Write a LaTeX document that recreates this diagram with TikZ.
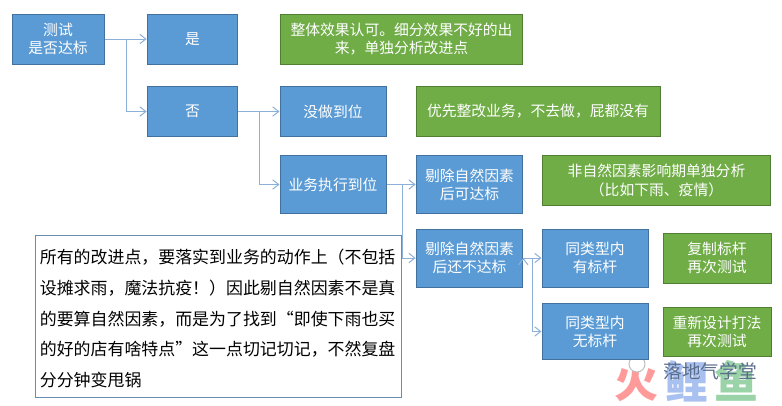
\documentclass[tikz,border=0pt]{standalone}
\usepackage{fontspec}
\usetikzlibrary{arrows.meta}
\setmainfont{Noto Sans CJK SC}
\definecolor{boxblue}{HTML}{5B9BD5}
\definecolor{boxedge}{HTML}{41719C}
\definecolor{boxgreen}{HTML}{70AD47}
\definecolor{greenedge}{HTML}{507E32}
\definecolor{linkblue}{HTML}{8DB0D8}
\definecolor{logored}{HTML}{FF9A9A}
\definecolor{logoblue}{HTML}{A9C1F0}
\definecolor{logogreen}{HTML}{9BD3A8}
\definecolor{markgrey}{HTML}{5A6E8C}
\tikzset{
  bluebox/.style={draw=boxedge, fill=boxblue, text=white, align=center, inner sep=0pt, font=\fontsize{11.1}{13.7}\selectfont},
  greenbox/.style={draw=greenedge, fill=boxgreen, text=white, align=center, inner sep=0pt, font=\fontsize{11.1}{13.7}\selectfont},
  notebox/.style={draw=boxedge!80, fill=white, text=black, align=left, inner sep=0pt, font=\fontsize{12.7}{23}\selectfont},
  logo/.style={inner sep=0pt, font=\fontsize{33}{33}\bfseries\selectfont},
  elbow/.style={to path={-- ++(#1,0) |- (\tikztotarget)}},
}
\begin{document}
\begin{tikzpicture}[x=0.75pt, y=-0.75pt, >={Straight Barb[length=4.5pt,width=7pt]}, line width=0.75pt]
\useasboundingbox (0,0) rectangle (782,405);

% watermark
\node [logo, text=logored] (fire) at (636,381) {火};
\node [logo, text=logoblue] (carp) at (686,381) {鲤};
\node [logo, text=logogreen] (fish) at (736,381) {鱼};
\node [draw=black!25, fill=white, circle, minimum size=12pt, inner sep=0pt] (icon) at (637,364) {};
\node [text=markgrey, inner sep=0pt, font=\fontsize{14}{14}\selectfont] (mark) at (710,371) {落地气学堂};

% left column
\node [bluebox, minimum width=69pt, minimum height=37.5pt] (test) at (58,39) {测试\\是否达标};
\node [bluebox, minimum width=68pt, minimum height=37.5pt] (yes) at (192.5,39) {是};
\node [bluebox, minimum width=68pt, minimum height=37pt] (no) at (192.5,111.5) {否};

% middle column
\node [bluebox, minimum width=79.5pt, minimum height=37pt] (undone) at (333,111.5) {没做到位};
\node [bluebox, minimum width=79.5pt, minimum height=43pt] (done) at (333,184.5) {业务执行到位};
\node [bluebox, minimum width=80pt, minimum height=43pt] (reach) at (469.5,184.5) {剔除自然因素\\后可达标};
\node [bluebox, minimum width=80pt, minimum height=43.5pt] (miss) at (469.5,258) {剔除自然因素\\后还不达标};
\node [bluebox, minimum width=79.5pt, minimum height=43.5pt] (bench) at (595,258) {同类型内\\有标杆};
\node [bluebox, minimum width=79.5pt, minimum height=42.5pt] (nobench) at (595,331.5) {同类型内\\无标杆};

% green notes
\node [greenbox, minimum width=182pt, minimum height=37.5pt] (accept) at (401.5,39) {整体效果认可。细分效果不好的出\\来，单独分析改进点};
\node [greenbox, minimum width=183pt, minimum height=37pt] (first) at (538,111.5) {优先整改业务，不去做，屁都没有};
\node [greenbox, minimum width=171.5pt, minimum height=37pt] (alone) at (656.5,180.5) {非自然因素影响期单独分析\\（比如下雨、疫情）};
\node [greenbox, minimum width=81pt, minimum height=37.5pt] (copy) at (717,258) {复制标杆\\再次测试};
\node [greenbox, minimum width=81pt, minimum height=37pt] (redo) at (717,332) {重新设计打法\\再次测试};

% long note
\node [notebox, minimum width=275pt, minimum height=121.5pt, text width=268pt] (note) at (218.5,316) {所有的改进点，要落实到业务的动作上（不包括\\设摊求雨，魔法抗疫！）因此剔自然因素不是真\\的要算自然因素，而是为了找到“即使下雨也买\\的好的店有啥特点”这一点切记切记，不然复盘\\分分钟变甩锅\vspace*{-4pt}};

\draw [->, linkblue]
    (test) edge (yes)
    (test.east) edge[elbow=22] (no.west)
    (no) edge (undone)
    (no.east) edge[elbow=21] (done.west)
    (done) edge (reach)
    (done.east) edge[elbow=16] (miss.west)
    (miss.east) edge (bench.west)
    (miss.east) edge[elbow=9] (nobench.west)
    ;
\end{tikzpicture}
\end{document}
